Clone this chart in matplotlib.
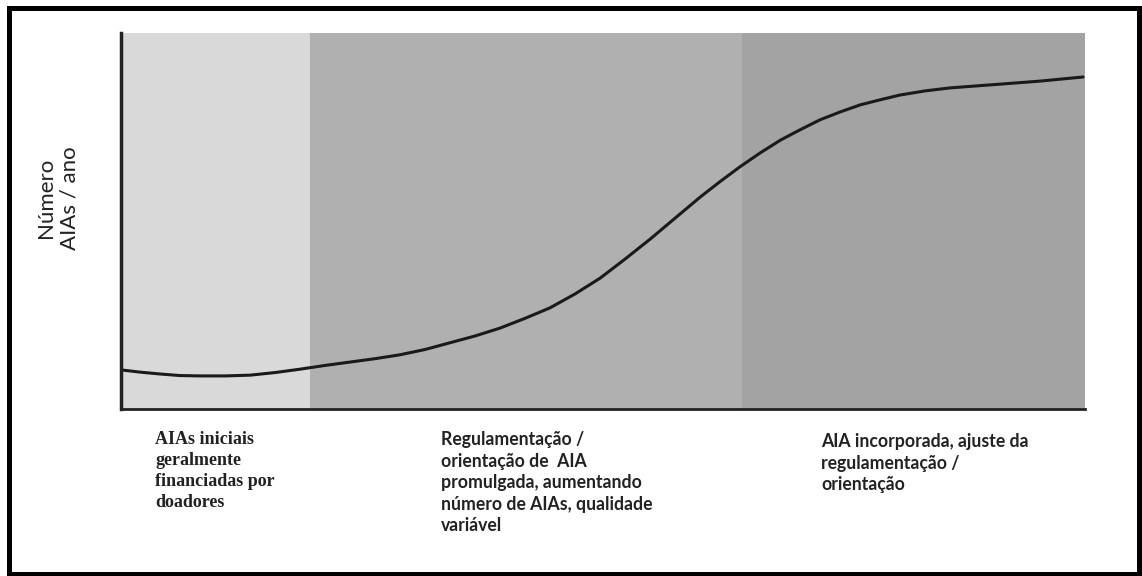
import numpy as np
import matplotlib.pyplot as plt
from matplotlib.patches import Rectangle

# curve (x: 0-100 across the axes, y: 0-100 up the axes)
curve_x = [0, 2.0, 4.1, 6.1, 8.2, 10.8, 13.4, 16.0, 18.6, 21.2, 23.8, 26.4,
           28.9, 31.5, 34.1, 36.7, 39.3, 41.9, 44.5, 47.1, 49.7, 52.3, 54.9,
           57.5, 60.1, 62.1, 64.2, 66.3, 68.4, 70.4, 72.5, 74.6, 76.7, 78.7,
           80.8, 83.4, 86.0, 88.6, 91.2, 95.3, 99.8]
curve_y = [10.4, 9.8, 9.3, 8.9, 8.8, 8.8, 9.0, 9.7, 10.6, 11.6, 12.5, 13.4,
           14.4, 15.8, 17.6, 19.4, 21.5, 24.1, 26.9, 30.6, 34.8, 39.9, 45.2,
           50.8, 56.4, 60.4, 64.4, 68.1, 71.5, 74.2, 76.9, 79.0, 80.9, 82.2,
           83.5, 84.6, 85.4, 85.9, 86.4, 87.2, 88.3]

phase_edges = [0, 19.6, 64.4, 100]
phase_colors = ["#d9d9d9", "#b0b0b0", "#a3a3a3"]

phase_labels = [
    "AIAs iniciais\ngeralmente\nfinanciadas por\ndoadores",
    "Regulamentação /\norientação de  AIA\npromulgada, aumentando\nnúmero de AIAs, qualidade\nvariável",
    "AIA incorporada, ajuste da\nregulamentação /\norientação",
]
ylabel = "Número\nAIAs / ano"

W, H = 1142, 576
fig = plt.figure(figsize=(W/100, H/100), dpi=100)
ax = fig.add_axes([121/W, 1-409/H, 964/W, 376/H])

for i in range(3):
    ax.axvspan(phase_edges[i], phase_edges[i+1], color=phase_colors[i], lw=0)

ax.plot(curve_x, curve_y, color="#1a1a1a", lw=2.2,
        solid_capstyle="round", solid_joinstyle="round")

ax.set_xlim(0, 100)
ax.set_ylim(0, 100)
ax.set_xticks([])
ax.set_yticks([])
ax.spines["top"].set_visible(False)
ax.spines["right"].set_visible(False)
ax.spines["left"].set_linewidth(2.5)
ax.spines["bottom"].set_linewidth(2)
ax.spines["left"].set_color("#222222")
ax.spines["bottom"].set_color("#222222")

# y label as two rotated lines
fig.text(58/W, 1-198/H, ylabel, rotation=90, ha="center", va="center",
         fontsize=16, family="Lato", color="#222222", multialignment="center")

# phase descriptions under the chart
fig.text(155/W, 1-431/H, phase_labels[0], ha="left", va="top", fontsize=13,
         family="Liberation Serif", weight="bold", color="#222222", linespacing=1.3)
fig.text(441/W, 1-431/H, phase_labels[1], ha="left", va="top", fontsize=12.7,
         family="Lato", weight="bold", color="#222222", linespacing=1.33)
fig.text(821/W, 1-433/H, phase_labels[2], ha="left", va="top", fontsize=12.7,
         family="Lato", weight="bold", color="#222222", linespacing=1.33)

# black frame round the whole figure
fig.patches.append(Rectangle((8.5/W, 1-574/H), 1130.5/W, 566/H, transform=fig.transFigure,
                             fill=False, ec="black", lw=3.6))

fig.savefig("out.png", dpi=100)
